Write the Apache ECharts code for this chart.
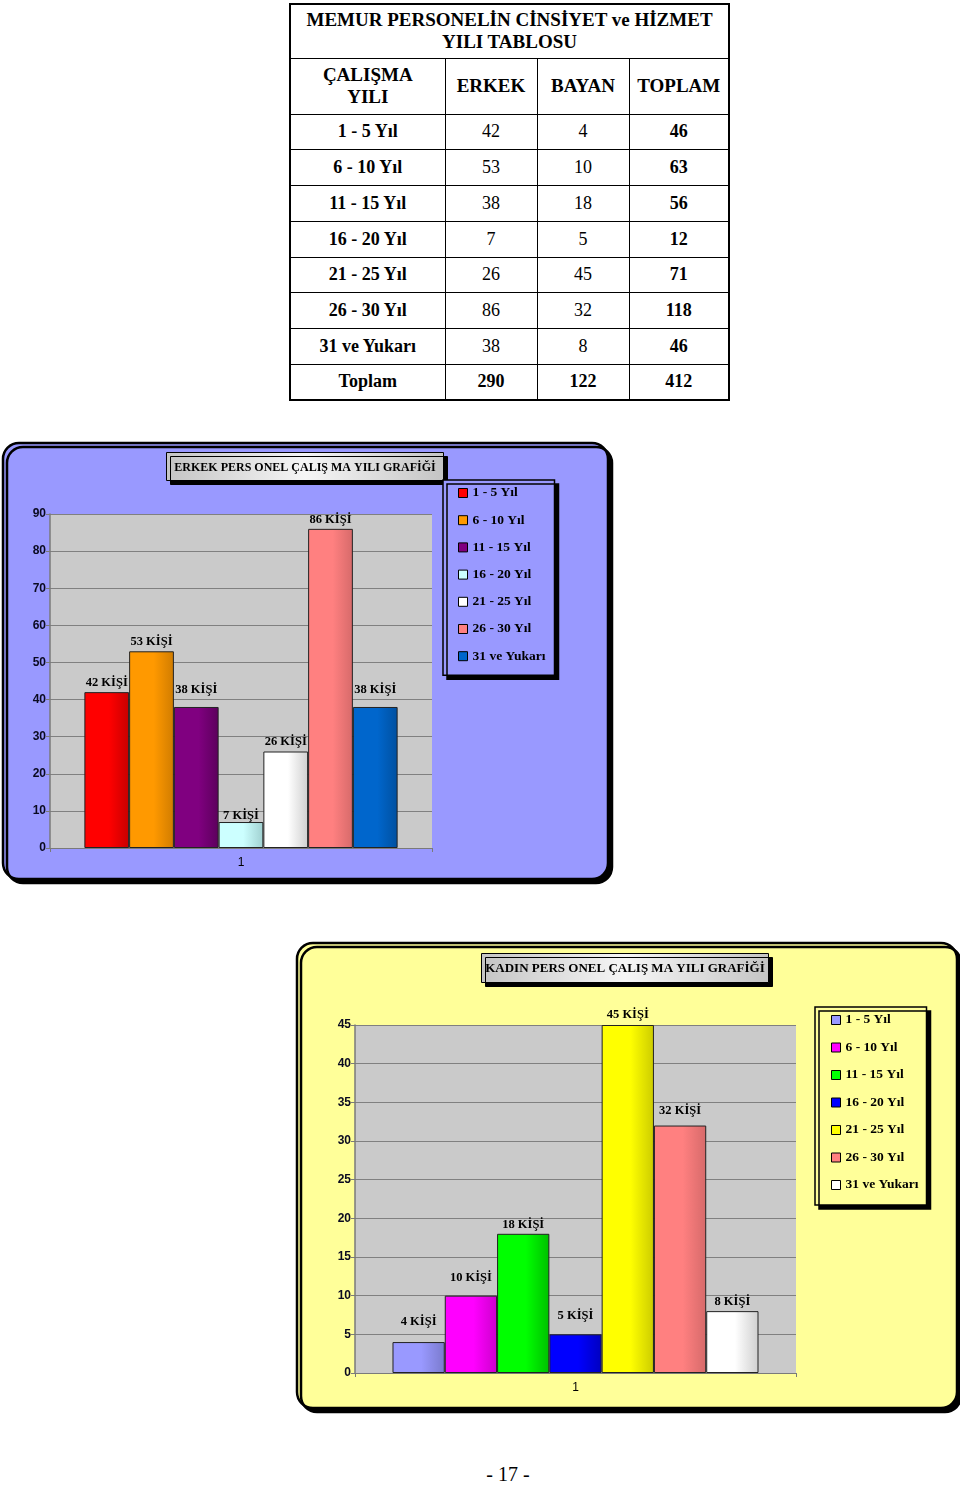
<!DOCTYPE html>
<html><head><meta charset="utf-8">
<script src="https://cdn.jsdelivr.net/npm/echarts@6/dist/echarts.min.js"></script>
<style>
html,body{margin:0;padding:0;background:#fff;width:960px;height:1486px;overflow:hidden;position:relative;font-family:"Liberation Serif",serif;}
#tbl{position:absolute;left:289px;top:3px;width:439px;table-layout:fixed;border-collapse:collapse;border:2px solid #000;font-family:"Liberation Serif",serif;}
#tbl td{border:1px solid #000;text-align:center;padding:0;font-size:18px;color:#000;line-height:21px;font-family:"Liberation Serif",serif;}
#tbl td.b{font-weight:bold;}
#c1{position:absolute;left:0;top:440px;width:620px;height:450px;}
#c2{position:absolute;left:290px;top:935px;width:670px;height:480px;}
#pg{position:absolute;left:0;width:1016px;top:1463px;text-align:center;font-size:20px;}
</style></head>
<body>
<table id="tbl"></table>
<div id="c1"></div>
<div id="c2"></div>
<div id="pg">- 17 -</div>
<script>
// ---- data ----
const tableTitle = 'MEMUR PERSONELİN CİNSİYET ve HİZMET<br>YILI TABLOSU';
const headers = ['ÇALIŞMA<br>YILI', 'ERKEK', 'BAYAN', 'TOPLAM'];
const ranges = ['1 - 5 Yıl', '6 - 10 Yıl', '11 - 15 Yıl', '16 - 20 Yıl', '21 - 25 Yıl', '26 - 30 Yıl', '31 ve Yukarı'];
const erkek = [42, 53, 38, 7, 26, 86, 38];
const bayan = [4, 10, 18, 5, 45, 32, 8];
const toplam = [46, 63, 56, 12, 71, 118, 46];
const totalRow = ['Toplam', 290, 122, 412];
const categories = ['1'];
const title1 = 'ERKEK PERS ONEL ÇALIŞ MA YILI GRAFİĞİ';
const title2 = 'KADIN PERS ONEL ÇALIŞ MA YILI GRAFİĞİ';
const unit = 'KİŞİ';

// ---- table ----
(function(){
  const t = document.getElementById('tbl');
  const colW = [155, 92, 92, 100];
  let h = '<colgroup>' + colW.map(w => '<col style="width:' + w + 'px">').join('') + '</colgroup>';
  h += '<tr style="height:54px"><td class="b" colspan="4" style="font-size:19px;line-height:22px">' + tableTitle + '</td></tr>';
  h += '<tr style="height:56px">' + headers.map(x => '<td class="b" style="font-size:19px;line-height:22px">' + x + '</td>').join('') + '</tr>';
  ranges.forEach((r, i) => {
    h += '<tr style="height:35.75px"><td class="b">' + r + '</td><td>' + erkek[i] + '</td><td>' + bayan[i] + '</td><td class="b">' + toplam[i] + '</td></tr>';
  });
  h += '<tr style="height:35.75px">' + totalRow.map(x => '<td class="b">' + x + '</td>').join('') + '</tr>';
  t.innerHTML = h;
})();

// ---- charts ----
function grad(c1, c2) {
  return new echarts.graphic.LinearGradient(0, 0, 1, 0, [
    {offset: 0, color: c1}, {offset: 0.55, color: c1}, {offset: 1, color: c2}
  ]);
}
const serif = 'Liberation Serif';
const sans = 'Liberation Sans';

function build(cfg) {
  const series = ranges.map((name, i) => ({
    name: name, type: 'bar', data: [cfg.values[i]],
    barGap: '0%', barCategoryGap: cfg.gap,
    itemStyle: {color: grad(cfg.colors[i][0], cfg.colors[i][1]), borderColor: '#222', borderWidth: 1},
    label: {show: true, position: 'top', distance: cfg.labelDist[i], formatter: '{c} ' + unit,
      fontFamily: serif, fontWeight: 'bold', fontSize: 12.5, color: '#000'}
  }));
  return {
    animation: false,
    graphic: [
      {type: 'rect', z: -10, shape: {x: cfg.panel[0], y: cfg.panel[1], width: cfg.panel[2], height: cfg.panel[3], r: 16},
        style: {fill: cfg.bg, stroke: '#000', lineWidth: 2.5, shadowColor: '#000', shadowOffsetX: 4, shadowOffsetY: 4, shadowBlur: 0}},
      {type: 'group', z: 10, left: cfg.tbox[0], top: cfg.tbox[1], children: [
        {type: 'rect', shape: {x: 0, y: 0, width: cfg.tbox[2], height: cfg.tbox[3]},
          style: {fill: new echarts.graphic.LinearGradient(0, 0, 1, 0, [{offset: 0, color: '#c4c4c4'}, {offset: 0.5, color: '#f6f6f6'}, {offset: 1, color: '#c4c4c4'}]),
            stroke: '#000', lineWidth: 1, shadowColor: '#000', shadowOffsetX: 4, shadowOffsetY: 4, shadowBlur: 0}},
        {type: 'text', x: cfg.tbox[2] / 2, y: cfg.tbox[3] / 2 + 1,
          style: {text: cfg.title, fill: '#000', font: 'bold ' + cfg.tsize + 'px "' + serif + '"', align: 'center', verticalAlign: 'middle'}}
      ]}
    ],
    legend: {
      orient: 'vertical', left: cfg.leg[0], top: cfg.leg[1],
      itemWidth: 9, itemHeight: 9, itemGap: cfg.legGap,
      padding: cfg.legPad,
      backgroundColor: cfg.bg, borderColor: '#000', borderWidth: 1.5,
      shadowColor: '#000', shadowOffsetX: 4, shadowOffsetY: 4, shadowBlur: 0,
      textStyle: {fontFamily: serif, fontWeight: 'bold', fontSize: 13.5, color: '#000', lineHeight: 14},
      data: ranges.map((n, i) => ({name: n, icon: 'rect', itemStyle: {color: cfg.colors[i][0], borderColor: '#000', borderWidth: 1}}))
    },
    grid: {left: cfg.grid[0], top: cfg.grid[1], width: cfg.grid[2], height: cfg.grid[3], show: true,
      backgroundColor: '#cacaca', borderWidth: 0},
    xAxis: {type: 'category', data: categories,
      axisLine: {show: true, lineStyle: {color: '#7a7a7a', width: 1}},
      axisTick: {show: true, length: 4, lineStyle: {color: '#7a7a7a'}},
      axisLabel: {fontFamily: sans, fontSize: 12, color: '#000', margin: 9}},
    yAxis: {type: 'value', min: 0, max: cfg.max, interval: cfg.interval,
      axisLine: {show: true, lineStyle: {color: '#7a7a7a', width: 1.5}},
      axisTick: {show: true, length: 4, lineStyle: {color: '#7a7a7a'}},
      splitLine: {show: true, lineStyle: {color: '#808080', width: 1}},
      axisLabel: {fontFamily: sans, fontWeight: 'bold', fontSize: 12, color: '#0a0a20', margin: 4}},
    series: series
  };
}

const chart1 = echarts.init(document.getElementById('c1'), null, {renderer: 'canvas'});
chart1.setOption(build({
  values: erkek, max: 90, interval: 10, gap: '18%', bg: '#9999ff',
  colors: [['#ff0000', '#c80000'], ['#ff9900', '#d07c00'], ['#800080', '#5c005c'], ['#ccffff', '#a0d0d0'],
    ['#ffffff', '#cfcfcf'], ['#ff8080', '#d66a6a'], ['#0066cc', '#0050a0']],
  labelDist: [3, 3, 11, 0, 3, 3, 11],
  panel: [3, 3, 605, 436], tbox: [166, 12, 277, 28], title: title1, tsize: 12,
  leg: [443, 40], legGap: 13.2, legPad: [6, 9, 12, 15],
  grid: [50, 74, 382, 334]
}));

const chart2 = echarts.init(document.getElementById('c2'), null, {renderer: 'canvas'});
chart2.setOption(build({
  values: bayan, max: 45, interval: 5, gap: '17%', bg: '#ffff99',
  colors: [['#9999ff', '#7a7acc'], ['#ff00ff', '#cc00cc'], ['#00ff00', '#00c000'], ['#0000ff', '#0000c0'],
    ['#ffff00', '#cccc00'], ['#ff8080', '#d66a6a'], ['#ffffff', '#cfcfcf']],
  labelDist: [14, 11, 3, 12, 4, 8, 3],
  panel: [7, 8, 660, 465], tbox: [191, 18, 287, 29], title: title2, tsize: 13,
  leg: [525, 72], legGap: 13.5, legPad: [6, 8, 13, 16],
  grid: [65, 90, 441, 348]
}));
</script>
</body></html>
